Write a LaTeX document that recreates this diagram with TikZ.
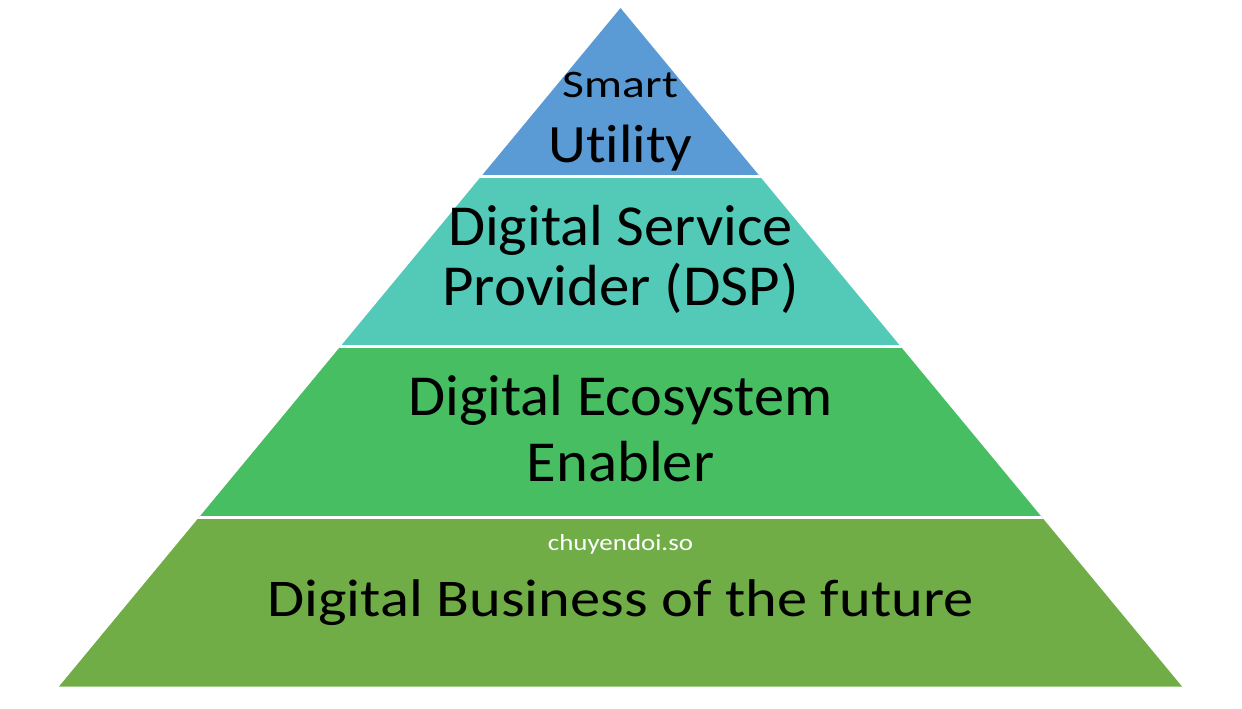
\documentclass[tikz,border=0pt]{standalone}
\usepackage{fontspec}
\setmainfont{Carlito}[Ligatures={NoCommon}]
\definecolor{cblue}{HTML}{5B9BD5}
\definecolor{cteal}{HTML}{53C9B8}
\definecolor{cgreen}{HTML}{47BE62}
\definecolor{colive}{HTML}{70AD47}
\tikzset{
  lbl/.style={anchor=base, inner sep=0pt, text=black, transform shape},
}
\newcommand{\fs}[1]{\fontsize{#1}{#1}\selectfont}
\begin{document}
\begin{tikzpicture}[x=1pt,y=-1pt]
\useasboundingbox (0,0) rectangle (1242,709);
\coordinate (apex) at (620.5,8);
\coordinate (bl) at (59,686.5);
\coordinate (br) at (1182,686.5);
\begin{scope}
\clip (apex) -- (br) -- (bl) -- cycle;
\fill[cblue] (0,0) rectangle (1242,176.5);
\fill[cteal] (0,176.5) rectangle (1242,346.5);
\fill[cgreen] (0,346.5) rectangle (1242,517.5);
\fill[colive] (0,517.5) rectangle (1242,700);
\draw[white, line width=2.5pt] (0,176.5) -- (1242,176.5);
\draw[white, line width=2.5pt] (0,346.5) -- (1242,346.5);
\draw[white, line width=2.5pt] (0,517.5) -- (1242,517.5);
\end{scope}
\node[lbl, font=\fs{39}, xscale=1.22] (smart) at (620.5,97.7) {Smart};
\node[lbl, font=\fs{54}, xscale=1.09] (util) at (620.5,162.7) {Utility};
\node[lbl, font=\fs{58}, xscale=1.04] (ds) at (620.5,245) {Digital Service};
\node[lbl, font=\fs{58}, xscale=1.05] (prov) at (620.5,305) {Provider (DSP)};
\node[lbl, font=\fs{58}, xscale=1.04] (eco) at (620.5,415) {Digital Ecosystem};
\node[lbl, font=\fs{58}, xscale=1.045] (enab) at (620.5,481.7) {Enabler};
\node[lbl, font=\fs{23}, text=white, xscale=1.17] (wm) at (620.5,550) {chuyendoi.so};
\node[lbl, font=\fs{53}, xscale=1.14] (biz) at (620.5,616.7) {Digital Business of the future};
\end{tikzpicture}
\end{document}
